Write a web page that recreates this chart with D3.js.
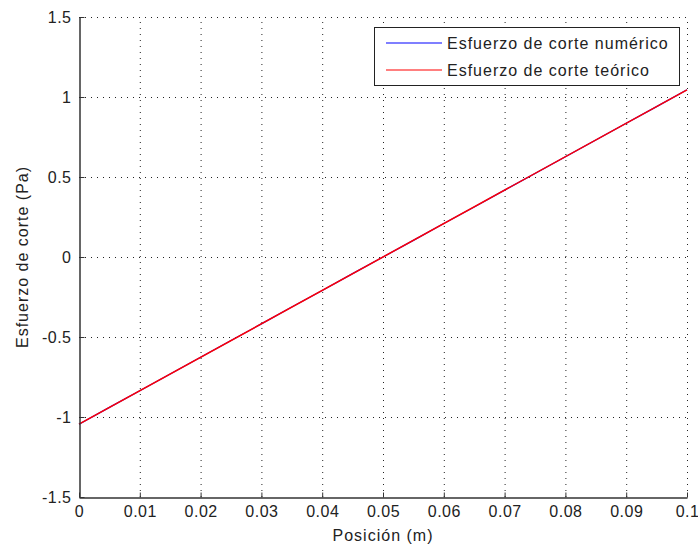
<!DOCTYPE html>
<html><head><meta charset="utf-8">
<script src="https://cdn.jsdelivr.net/npm/d3@7"></script>
<style>
body{margin:0;background:#fff;}
text{font-family:"Liberation Sans",Arial,sans-serif;}
</style></head><body>
<script>
const xTicks = [0,0.01,0.02,0.03,0.04,0.05,0.06,0.07,0.08,0.09,0.1];
const xTickLabels = ["0","0.01","0.02","0.03","0.04","0.05","0.06","0.07","0.08","0.09","0.1"];
const yTicks = [-1.5,-1,-0.5,0,0.5,1,1.5];
const yTickLabels = ["-1.5","-1","-0.5","0","0.5","1","1.5"];
const posNum = [0,0.005,0.01,0.015,0.02,0.025,0.03,0.035,0.04,0.045,0.05,0.055,0.06,0.065,0.07,0.075,0.08,0.085,0.09,0.095,0.1];
const valNum = [-1.045,-0.94,-0.836,-0.731,-0.627,-0.522,-0.418,-0.313,-0.209,-0.104,0,0.104,0.209,0.313,0.418,0.522,0.627,0.731,0.836,0.94,1.045];
const posTeo = [0,0.1];
const valTeo = [-1.045,1.045];
const seriesNames = ["Esfuerzo de corte numérico","Esfuerzo de corte teórico"];
const seriesColors = ["#0000ff","#ff0000"];

const W=698,H=550, L=79,R=687,T=17,B=497;
const svg=d3.select("body").append("svg").attr("width",W).attr("height",H);
const x=d3.scaleLinear().domain([0,0.1]).range([L,R]);
const y=d3.scaleLinear().domain([-1.5,1.5]).range([B,T]);

// grid
const g=svg.append("g");
g.selectAll(".gx").data(xTicks.slice(1)).enter().append("line")
 .attr("x1",d=>x(d)+0.5).attr("x2",d=>x(d)+0.5).attr("y1",B).attr("y2",T)
 .attr("stroke","#222").attr("stroke-width",1).attr("stroke-dasharray","1,5");
g.selectAll(".gy").data(yTicks.slice(1)).enter().append("line")
 .attr("y1",d=>y(d)+0.5).attr("y2",d=>y(d)+0.5).attr("x1",L).attr("x2",R)
 .attr("stroke","#222").attr("stroke-width",1).attr("stroke-dasharray","1,5");

// lines
const line=d3.line().x(d=>x(d[0])).y(d=>y(d[1]));
svg.append("path").datum(posNum.map((p,i)=>[p,valNum[i]])).attr("d",line)
 .attr("fill","none").attr("stroke",seriesColors[0]).attr("stroke-width",1.2);
svg.append("path").datum(posTeo.map((p,i)=>[p,valTeo[i]])).attr("d",line)
 .attr("fill","none").attr("stroke",seriesColors[1]).attr("stroke-width",1.5);

// axes
const xa=svg.append("g").attr("transform",`translate(0,${B+0.5})`)
 .call(d3.axisBottom(x).tickValues(xTicks).tickFormat((d,i)=>xTickLabels[i]).tickSize(-5).tickSizeOuter(0).tickPadding(5));
const ya=svg.append("g").attr("transform",`translate(${L+0.5},0)`)
 .call(d3.axisLeft(y).tickValues(yTicks).tickFormat((d,i)=>yTickLabels[i]).tickSize(-5).tickSizeOuter(0).tickPadding(8));
[xa,ya].forEach(a=>{
 a.select(".domain").attr("stroke","#333").attr("stroke-width",1.5);
 a.selectAll(".tick line").attr("stroke","#333");
 a.selectAll("text").attr("font-size",16).attr("letter-spacing",0.5).attr("fill","#222").attr("font-family","Liberation Sans, Arial, sans-serif");
});
xa.selectAll("text").attr("dy","0.9em");

// axis labels
svg.append("text").attr("x",(L+R)/2).attr("y",541).attr("text-anchor","middle")
 .attr("font-size",16).attr("letter-spacing",1).attr("fill","#222").text("Posición (m)");
svg.append("text").attr("transform",`translate(28,${(T+B)/2}) rotate(-90)`).attr("text-anchor","middle")
 .attr("font-size",16).attr("letter-spacing",1).attr("fill","#222").text("Esfuerzo de corte (Pa)");

// legend
const lg=svg.append("g");
lg.append("rect").attr("x",374.5).attr("y",27.5).attr("width",305).attr("height",58)
 .attr("fill","#fff").attr("stroke","#222").attr("stroke-width",1);
seriesNames.forEach((n,i)=>{
 const yy=43+i*27;
 lg.append("line").attr("x1",386).attr("x2",442).attr("y1",yy).attr("y2",yy)
  .attr("stroke",seriesColors[i]).attr("stroke-width",1.2);
 lg.append("text").attr("x",447).attr("y",yy+6).attr("font-size",16).attr("letter-spacing",1).attr("fill","#222").text(n);
});
</script>
</body></html>
